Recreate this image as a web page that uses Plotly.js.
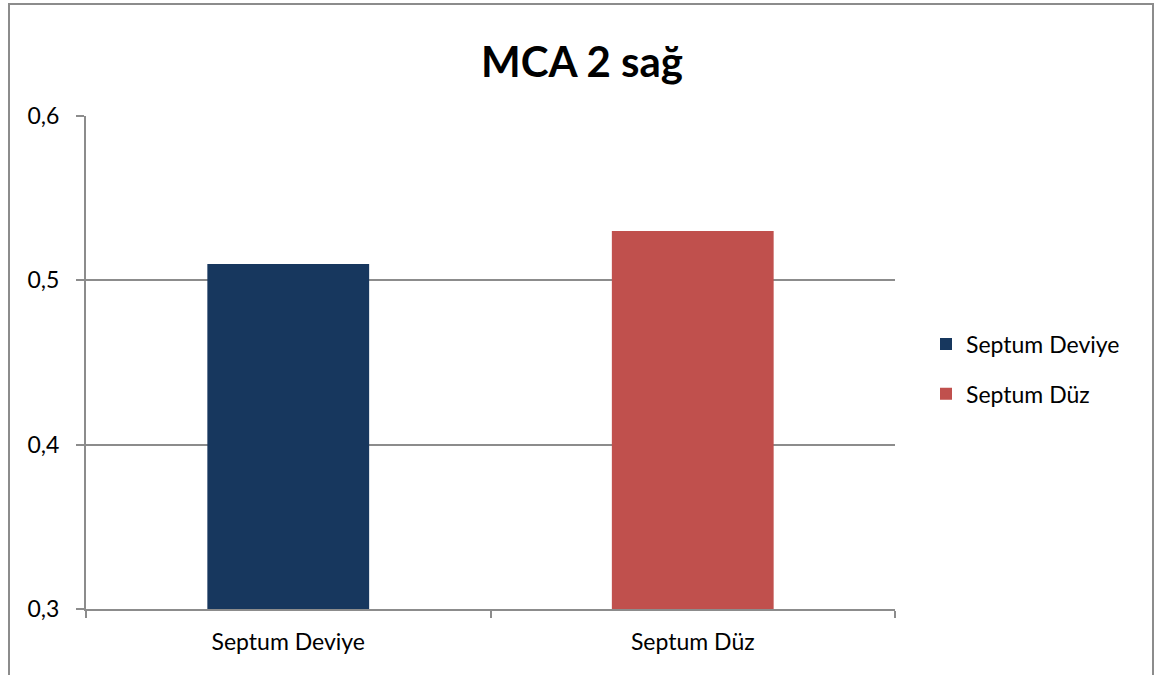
<!DOCTYPE html>
<html>
<head>
<meta charset="utf-8">
<script src="https://cdn.plot.ly/plotly-3.0.1.min.js"></script>
<style>
  html, body { margin: 0; padding: 0; background: #fff; }
  #wrap { position: relative; width: 1164px; height: 675px; }
  #chart { width: 1164px; height: 675px; }
  #frame { position: absolute; left: 8px; top: 3px; width: 1146px; height: 690px;
           border: 2px solid #8c8c8c; border-bottom: none; pointer-events: none; box-sizing: border-box; }
</style>
</head>
<body>
<div id="wrap">
  <div id="chart"></div>
  <div id="frame"></div>
</div>
<script>
const categories = ["Septum Deviye", "Septum Düz"];
const seriesNames = ["Septum Deviye", "Septum Düz"];
const seriesValues = [0.51, 0.53];
const seriesColors = ["#17375E", "#C0504D"];
const yTickVals = [0.3, 0.4, 0.5, 0.6];
const yTickText = ["0,3", "0,4", "0,5", "0,6"];

const font = "Lato, 'Open Sans', 'Liberation Sans', sans-serif";

const traces = seriesNames.map((name, i) => ({
  type: "bar",
  name: name,
  x: [categories[i]],
  y: [seriesValues[i]],
  width: 0.4,
  marker: { color: seriesColors[i] },
  legendgroup: "g" + i,
  hoverinfo: "x+y"
}));

const layout = {
  width: 1164, height: 675,
  margin: { l: 86, r: 269, t: 116, b: 66, pad: 0 },
  paper_bgcolor: "#ffffff",
  plot_bgcolor: "#ffffff",
  barmode: "overlay",
  title: { text: "<b>MCA 2 sağ</b>", x: 0.5, xanchor: "center", y: 1 - 62/675, yanchor: "middle",
           font: { family: font, size: 42, color: "#000" } },
  font: { family: font, size: 23, color: "#000" },
  xaxis: {
    type: "category",
    categoryorder: "array",
    categoryarray: categories,
    tickson: "boundaries",
    ticks: "outside", ticklen: 7, tickwidth: 2, tickcolor: "#8c8c8c",
    showline: true, linecolor: "#8c8c8c", linewidth: 2,
    showgrid: false,
    ticklabelstandoff: 11,
    tickfont: { family: font, size: 23, color: "#000" },
    fixedrange: true
  },
  yaxis: {
    range: [0.3, 0.6],
    tickvals: yTickVals,
    ticktext: yTickText,
    ticks: "outside", ticklen: 8, tickwidth: 2, tickcolor: "#8c8c8c",
    showline: true, linecolor: "#8c8c8c", linewidth: 2,
    showgrid: true, gridcolor: "#8c8c8c", gridwidth: 2,
    zeroline: false,
    ticklabelstandoff: 12,
    tickfont: { family: font, size: 23, color: "#000" },
    fixedrange: true
  },
  showlegend: true,
  legend: {
    x: 1 + (926 - 895) / 809, xanchor: "left",
    y: (609 - 369) / 493, yanchor: "middle",
    traceorder: "grouped",
    tracegroupgap: 17,
    font: { family: font, size: 23, color: "#000" },
    itemwidth: 30,
    bgcolor: "rgba(0,0,0,0)"
  }
};

Plotly.newPlot("chart", traces, layout, { displayModeBar: false, staticPlot: true });
</script>
</body>
</html>
